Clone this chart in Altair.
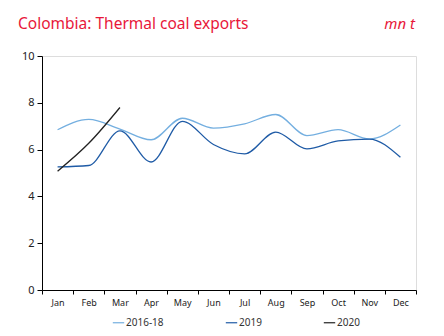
import altair as alt
import pandas as pd

months = ["Jan", "Feb", "Mar", "Apr", "May", "Jun", "Jul", "Aug", "Sep", "Oct", "Nov", "Dec"]
s_2016_18 = [6.85, 7.29, 6.88, 6.42, 7.34, 6.92, 7.1, 7.5, 6.6, 6.85, 6.45, 7.05]
s_2019 = [5.26, 5.32, 6.8, 5.47, 7.21, 6.22, 5.82, 6.75, 6.03, 6.37, 6.45, 5.67]
s_2020 = [5.08, 6.27, 7.8]

series = ["2016-18", "2019", "2020"]
colors = ["#74afe0", "#1f5ba6", "#222222"]

rows = []
for name, vals in zip(series, [s_2016_18, s_2019, s_2020]):
    for m, v in zip(months, vals):
        rows.append({"month": m, "value": v, "series": name})
df = pd.DataFrame(rows)

FONT = "Noto Sans"

x = alt.X("month:N", sort=months, title=None,
          scale=alt.Scale(paddingInner=0, paddingOuter=0),
          axis=alt.Axis(labelAngle=0, tickBand="extent", domainColor="#000", tickColor="#000",
                        tickSize=4, labelFont=FONT, labelFontSize=9, labelColor="#222",
                        labelPadding=4))
y = alt.Y("value:Q", title=None, scale=alt.Scale(domain=[0, 10], nice=False),
          axis=alt.Axis(values=[0, 2, 4, 6, 8, 10], grid=False, domainColor="#000", tickColor="#000",
                        tickSize=5, labelFont=FONT, labelFontSize=11, labelColor="#222",
                        labelPadding=3))

lines = alt.Chart(df).mark_line(interpolate="monotone", strokeWidth=1.3).encode(
    x=x, y=y,
    color=alt.Color("series:N", sort=series,
                    scale=alt.Scale(domain=series, range=colors),
                    legend=alt.Legend(title=None, orient="none", legendX=70, legendY=260,
                                      direction="horizontal", symbolType="stroke",
                                      symbolSize=130, symbolStrokeWidth=1.2,
                                      labelFont=FONT, labelFontSize=10, labelColor="#333",
                                      labelOffset=1, columnPadding=59)),
)

title_df = pd.DataFrame({"t": ["Colombia: Thermal coal exports"]})
unit_df = pd.DataFrame({"t": ["mn t"]})
title = alt.Chart(title_df).mark_text(align="left", baseline="alphabetic", font=FONT,
                                      fontSize=15.5, color="#e8173a").encode(
    text="t:N", x=alt.value(-24), y=alt.value(-27))
unit = alt.Chart(unit_df).mark_text(align="right", baseline="alphabetic", font=FONT,
                                    fontSize=15, fontStyle="italic", color="#e8173a").encode(
    text="t:N", x=alt.value(373), y=alt.value(-27))

chart = alt.layer(lines, title, unit).properties(
    width=374, height=234, autosize="none",
    padding={"left": 42, "top": 56, "right": 28, "bottom": 46},
).configure_view(stroke=None).configure(background="white")

chart.save("out.html", embed_options={"renderer": "svg", "actions": False})
